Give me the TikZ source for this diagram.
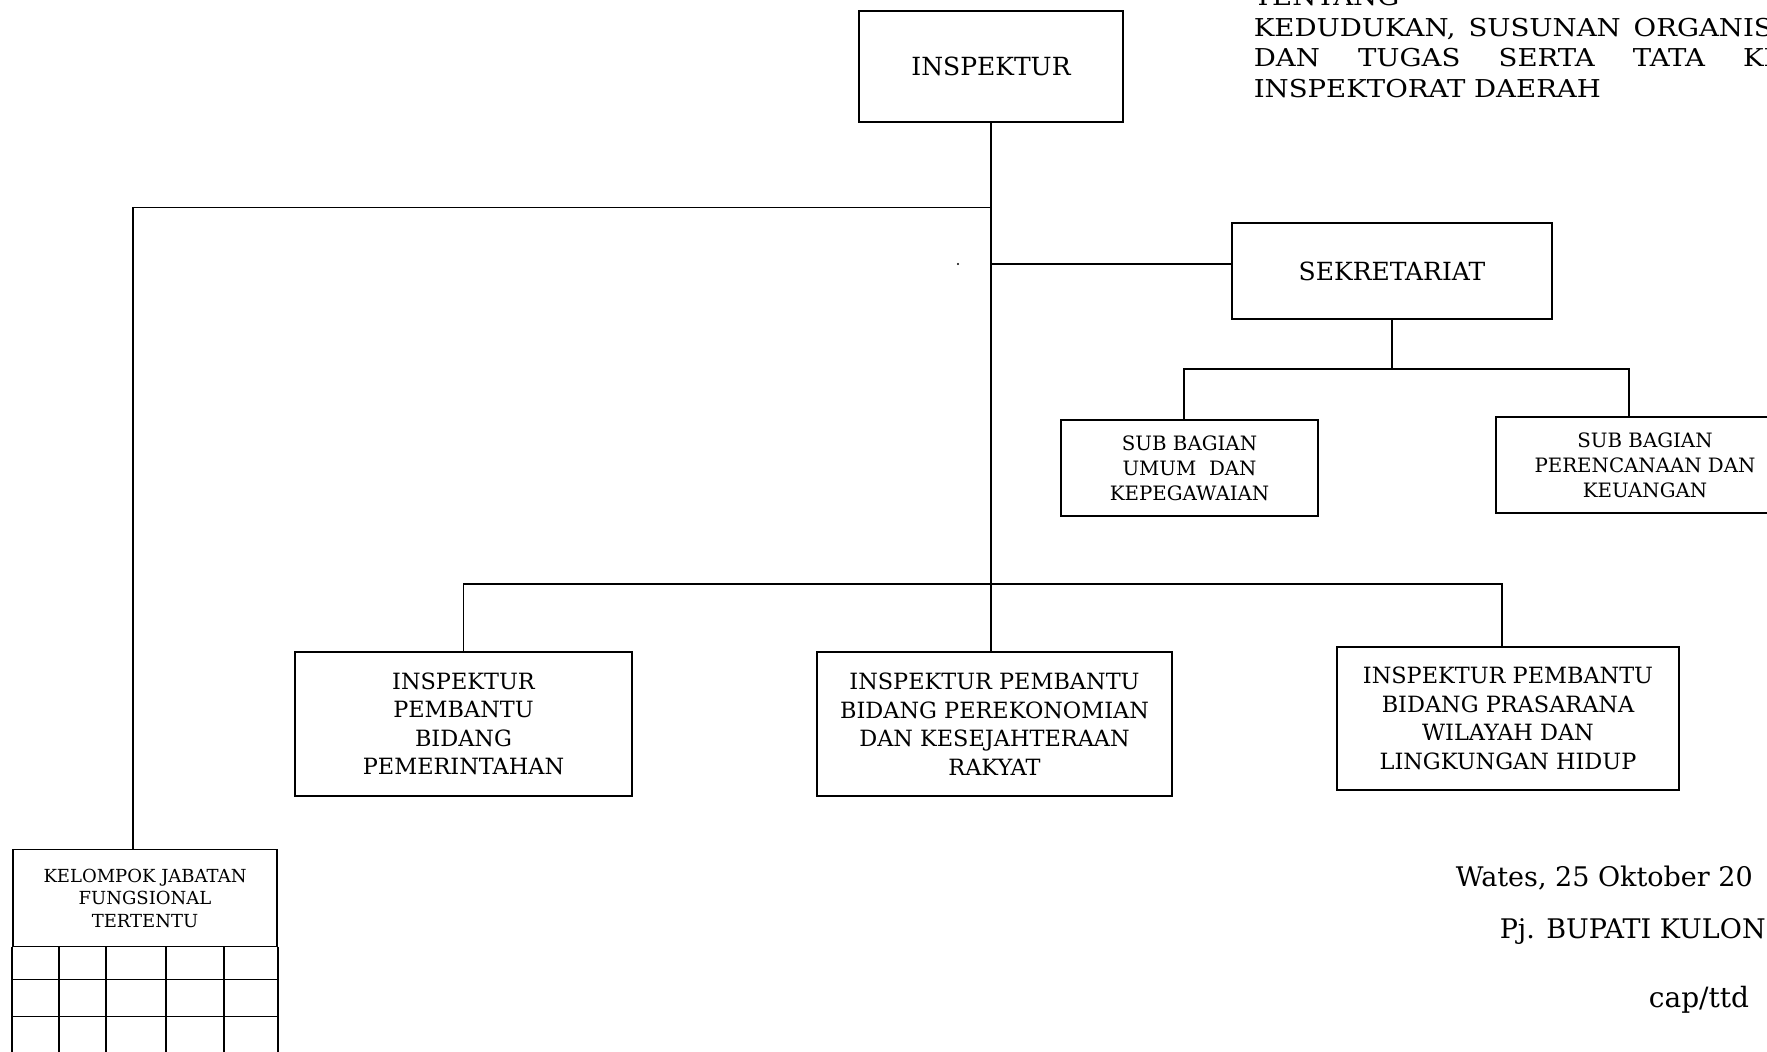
\documentclass[tikz,border=0pt]{standalone}
\usepackage{fontspec}
\setmainfont{DejaVu Serif}
\newfontfamily\lebar[FakeStretch=1.12]{DejaVu Serif}
\usetikzlibrary{positioning}

\begin{document}
\begin{tikzpicture}[on grid, line width=0.8pt,
	box/.style={draw, line width=0.9pt, inner sep=0pt, align=center},
	kepala/.style={font=\fontsize{12.5}{15}\selectfont},
	subbag/.style={font=\fontsize{9.9}{12.5}\selectfont, minimum height=48pt},
	irban/.style={font=\fontsize{11.2}{14.25}\selectfont, minimum height=72pt},
	kjfbox/.style={font=\fontsize{9}{11.25}\selectfont, minimum width=132pt, minimum height=48.5pt},
	judul/.style={font=\lebar\fontsize{12.3}{15.25}\selectfont},
	ttd/.style={font=\fontsize{13.5}{16}\selectfont, inner sep=0pt}]
	\path[clip, use as bounding box] (0,0) rectangle (883.5pt,-525.5pt);
	
	\node[box, kepala, minimum width=132pt, minimum height=55.5pt] (insp) at (495.5pt,-33.25pt) {INSPEKTUR};
	\node[box, kepala, minimum width=160pt, minimum height=48pt] (sek) [below right = 102.25pt and 200.5pt of insp] {SEKRETARIAT};
	\node[box, subbag, minimum width=128.5pt] (sbumum) [below left = 98.5pt and 101.25pt of sek] {SUB BAGIAN\\UMUM\ \ DAN\\KEPEGAWAIAN};
	\node[box, subbag, minimum width=149pt] (sbren) [below right = 97pt and 126.5pt of sek] {SUB BAGIAN\\PERENCANAAN DAN\\KEUANGAN};
	\node[box, irban, minimum width=177.5pt] (ip2) [below right = 328.75pt and 1.75pt of insp] {INSPEKTUR PEMBANTU\\BIDANG PEREKONOMIAN\\DAN KESEJAHTERAAN\\RAKYAT};
	\node[box, irban, minimum width=168.5pt] (ip1) [left = 265.5pt of ip2] {INSPEKTUR\\PEMBANTU\\BIDANG\\PEMERINTAHAN};
	\node[box, irban, minimum width=171pt, minimum height=71.5pt] (ip3) [above right = 2.75pt and 256.75pt of ip2] {INSPEKTUR PEMBANTU\\BIDANG PRASARANA\\WILAYAH DAN\\LINGKUNGAN HIDUP};
	\node[box, kjfbox] (kjf) [below left = 87pt and 159.25pt of ip1] {KELOMPOK JABATAN\\FUNGSIONAL\\TERTENTU};
	
	% garis komando
	\draw (insp.south) -- (insp.south |- ip2.north);
	\draw (insp.south) ++(0,-42.25pt) coordinate (kiri);
	\draw (kiri) -| ([xshift=-6pt]kjf.north);
	\draw ([yshift=3.5pt]sek.west) -- ([yshift=3.5pt]sek.west -| insp.south);
	\draw (sek.south) -- ++(0,-24.5pt) coordinate (sekbawah);
	\draw (sekbawah) -| ([xshift=-2.75pt]sbumum.north);
	\draw (sekbawah) -| ([xshift=-8pt]sbren.north);
	\draw (ip1.north) -- ++(0,33.5pt) -| ([xshift=-3pt]ip3.north);
	
	% tabel jabatan fungsional
	\draw[line width=0.9pt] (kjf.south west) -- ++(0,-60pt);
	\draw[line width=0.9pt] (kjf.south east) -- ++(0,-60pt);
	\foreach \x in {23.5,47,77,106}
		\draw[line width=0.9pt] ([xshift=\x pt]kjf.south west) -- ++(0,-60pt);
	\foreach \y in {16,34.5}
		\draw[line width=0.9pt] ([yshift=-\y pt]kjf.south west) -- ([yshift=-\y pt]kjf.south east);
	
	\fill (479pt,-132pt) circle (0.6pt);
	
	\node[judul, anchor=base west, align=left, inner sep=0pt] (perbup) at (626.5pt,-48.5pt) {TENTANG\\
		\makebox[259.5pt][l]{KEDUDUKAN,\hfill SUSUNAN\hfill ORGANIS}\\
		\makebox[265pt][l]{DAN\hfill TUGAS\hfill SERTA\hfill TATA\hfill KE}\\
		INSPEKTORAT DAERAH};
	
	\node[ttd, anchor=base west] (tempat) at (727.5pt,-443pt) {Wates, 25 Oktober 20};
	\node[ttd, anchor=base west] (jabatan) at (749.5pt,-469pt) {Pj. BUPATI KULON};
	\node[ttd, anchor=base, font=\fontsize{14}{16}\selectfont] (cap) at (849.5pt,-503.5pt) {cap/ttd};
\end{tikzpicture}
\end{document}
